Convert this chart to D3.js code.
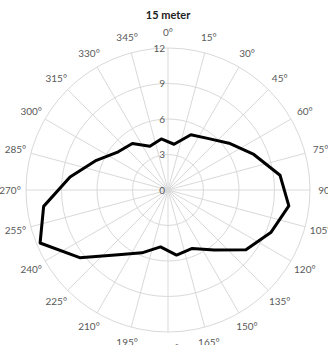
<!DOCTYPE html>
<html>
<head>
<meta charset="utf-8">
<script src="https://cdn.jsdelivr.net/npm/d3@7"></script>
<style>
body { margin: 0; background: #fff; }
svg { display: block; font-family: Lato, "Open Sans", sans-serif; }
</style>
</head>
<body>
<div id="chart"></div>
<script>
var title = "15 meter";

// direction (degrees) of each measurement
var angles = [7.5, 22.5, 37.5, 52.5, 67.5, 82.5, 97.5, 112.5, 127.5, 142.5, 157.5, 172.5,
              187.5, 202.5, 217.5, 232.5, 247.5, 262.5, 277.5, 292.5, 307.5, 322.5, 337.5, 352.5];
var values = [3.9, 5.05, 5.5, 6.5, 7.85, 9.55, 10.3, 9.4, 8.3, 6.4, 5.35, 5.55,
              4.85, 5.75, 6.9, 9.4, 11.7, 10.6, 8.35, 6.55, 5.3, 4.95, 4.0, 4.35];

var spokeLabels = [0, 15, 30, 45, 60, 75, 90, 105, 120, 135, 150, 165,
                   180, 195, 210, 225, 240, 255, 270, 285, 300, 315, 330, 345];
var ringTicks = [0, 3, 6, 9, 12];

var width = 328, height = 345,
    cx = 168, cy = 190, radius = 142;

var r = d3.scaleLinear().domain([0, 12]).range([0, radius]);
var toRad = function(deg) { return deg * Math.PI / 180; };

var svg = d3.select("#chart").append("svg")
    .attr("width", width)
    .attr("height", height);

svg.append("text")
    .attr("x", cx)
    .attr("y", 15)
    .attr("dy", ".35em")
    .style("text-anchor", "middle")
    .style("font-size", "11px")
    .style("font-weight", "bold")
    .style("fill", "#222")
    .text(title);

var g = svg.append("g")
    .attr("transform", "translate(" + cx + "," + cy + ")");

// rings
g.selectAll(".ring")
    .data(ringTicks.slice(1))
    .enter().append("circle")
    .attr("class", "ring")
    .attr("r", function(d) { return r(d); })
    .style("fill", "none")
    .style("stroke", "#d9d9d9")
    .style("stroke-width", 1);

// spokes
g.selectAll(".spoke")
    .data(spokeLabels)
    .enter().append("line")
    .attr("class", "spoke")
    .attr("x1", 0).attr("y1", 0)
    .attr("x2", function(d) { return r(12) * Math.sin(toRad(d)); })
    .attr("y2", function(d) { return -r(12) * Math.cos(toRad(d)); })
    .style("stroke", "#d9d9d9")
    .style("stroke-width", 1);

// angle labels
g.selectAll(".alabel")
    .data(spokeLabels)
    .enter().append("text")
    .attr("class", "alabel")
    .attr("x", function(d) { return (radius + 16) * Math.sin(toRad(d)); })
    .attr("y", function(d) { return -(radius + 16) * Math.cos(toRad(d)); })
    .attr("dy", ".35em")
    .style("text-anchor", "middle")
    .style("font-size", "10px")
    .style("fill", "#595959")
    .text(function(d) { return d + "\u00b0"; });

// ring labels
g.selectAll(".rlabel")
    .data(ringTicks)
    .enter().append("text")
    .attr("class", "rlabel")
    .attr("x", -3)
    .attr("y", function(d) { return -r(d); })
    .attr("dy", ".35em")
    .style("text-anchor", "end")
    .style("font-size", "10px")
    .style("fill", "#595959")
    .text(function(d) { return d; });

var pts = angles.map(function(a, i) { return {angle: a, value: values[i]}; });

var line = d3.lineRadial()
    .curve(d3.curveLinearClosed)
    .angle(function(d) { return toRad(d.angle); })
    .radius(function(d) { return r(d.value); });

g.append("path")
    .datum(pts)
    .attr("d", line)
    .style("fill", "none")
    .style("stroke", "#000")
    .style("stroke-width", 3)
    .style("stroke-linejoin", "round");
</script>
</body>
</html>
